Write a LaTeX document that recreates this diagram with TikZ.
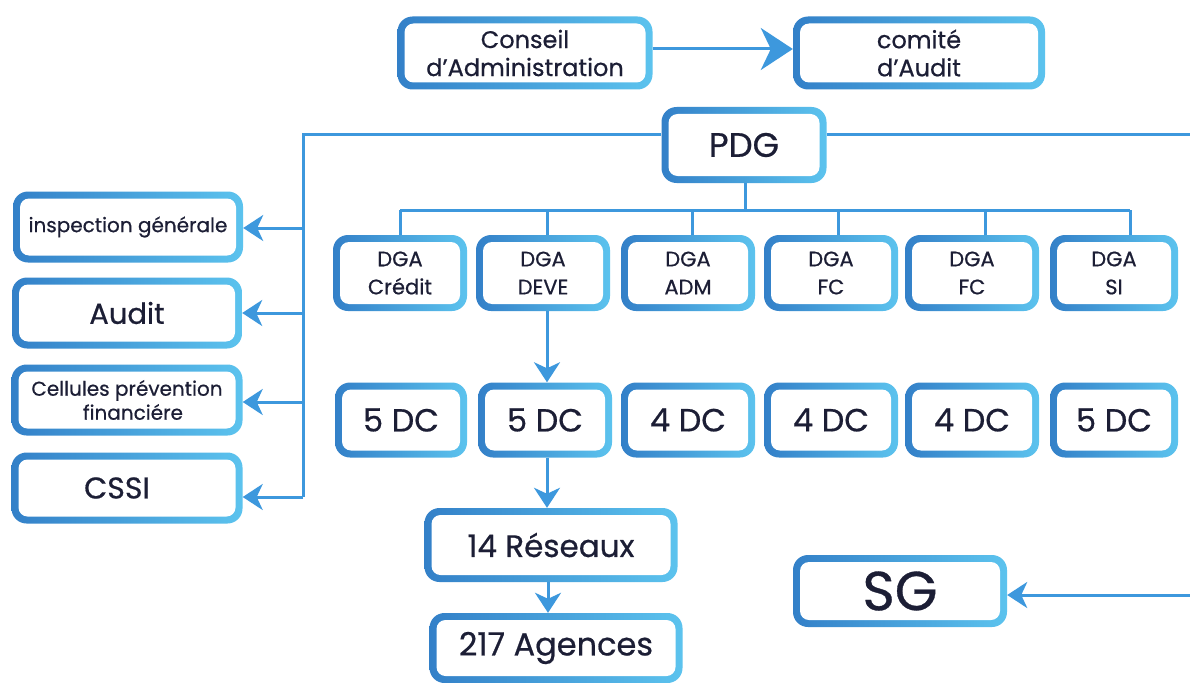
\documentclass[tikz,border=0pt]{standalone}
\usepackage{fontspec}
\setmainfont{Poppins}[FakeBold=0.6]
\usetikzlibrary{arrows.meta,calc}
\definecolor{bdark}{HTML}{3380C8}
\definecolor{blight}{HTML}{5CC3EE}
\definecolor{lin}{HTML}{3D98DD}
\definecolor{txt}{HTML}{1C1E35}
\newcommand{\fsz}[2]{\fontsize{#1}{#2}\selectfont}
\begin{document}
\begin{tikzpicture}[x=1pt,y=-1pt,
 box/.style={rectangle, rounded corners=15pt, left color=bdark, right color=blight, text=txt, align=center, inner sep=0pt,
   path picture={\fill[white, rounded corners=9pt] ([shift={(7pt,7pt)}]path picture bounding box.south west) rectangle ([shift={(-7pt,-7pt)}]path picture bounding box.north east);}},
 con/.style={draw=lin, line width=3pt},
 arr/.style={con, -{Stealth[length=20pt,width=26pt,inset=6pt]}},
 bigarr/.style={con, -{Stealth[length=32pt,width=42pt,inset=10pt]}},
 dga/.style={box, minimum width=134pt, minimum height=76pt, font=\fsz{21}{28}},
 dc/.style={box, minimum width=134pt, minimum height=75pt, font=\fsz{32}{36}},
 side/.style={box, minimum width=230pt, minimum height=71pt}
]
\useasboundingbox (0,0) rectangle (1190,682);
\fill[white] (0,0) rectangle (1190,682);

\node[box, minimum width=255pt, minimum height=73pt, font=\fsz{24}{28}] (ca) at (525,53) {Conseil\\d’Administration};
\node[box, minimum width=252pt, minimum height=73pt, font=\fsz{24}{28}] (cm) at (919,53) {comité\\d’Audit};
\node[box, minimum width=165pt, minimum height=76pt, font=\fsz{34}{38}] (pdg) at (744,145) {PDG};

\node[side, font=\fsz{20}{24}] (ig) at (128,227) {inspection générale};
\node[side, font=\fsz{29}{34}] (au) at (127,313) {Audit};
\node[side, minimum width=231pt, font=\fsz{20}{24}] (ce) at (127,400) {Cellules prévention\\\hspace*{12pt}financiére};
\node[side, minimum width=231pt, font=\fsz{30}{34}] (cs) at (127,488) {\hspace*{-20pt}CSSI};

\node[dga] (d1) at (400,273) {DGA\\Crédit};
\node[dga] (d2) at (543,273) {DGA\\DEVE};
\node[dga] (d3) at (688,273) {DGA\\ADM};
\node[dga] (d4) at (831,273) {DGA\\FC};
\node[dga] (d5) at (972,273) {DGA\\FC};
\node[dga, minimum width=128pt] (d6) at (1114,273) {DGA\\SI};

\node[dc, minimum width=132pt] (c1) at (401,420) {5 DC};
\node[dc] (c2) at (545,420) {5 DC};
\node[dc] (c3) at (688,420) {4 DC};
\node[dc] (c4) at (831,420) {4 DC};
\node[dc] (c5) at (972,420) {4 DC};
\node[dc, minimum width=128pt] (c6) at (1114,420) {5 DC};

\node[box, minimum width=253pt, minimum height=74pt, font=\fsz{31}{36}] (re) at (551,545) {14 Réseaux};
\node[box, minimum width=253pt, minimum height=70pt, font=\fsz{32}{36}] (ag) at (556,648) {217 Agences};
\node[box, minimum width=214pt, minimum height=72pt, font=\fsz{55}{60}] (sg) at (900,591) {SG};

% top arrow
\draw[bigarr] (ca.east |- 0,49) -- (cm.west |- 0,49);

% left branch
\coordinate (lt) at (303,134);
\coordinate (lb) at (303,497);
\draw[con] (pdg.west |- lt) -- (lt) -- (lb);
\draw[arr] (303,228) -- (ig.east |- 0,228);
\draw[arr] (303,313) -- (au.east |- 0,313);
\draw[arr] (303,402) -- (ce.east |- 0,402);
\draw[arr] (lb) -- (cs.east |- lb);

% right branch to SG
\coordinate (rt) at (1196,134);
\coordinate (rb) at (1196,595);
\draw[con] (pdg.east |- rt) -- (rt) -- (rb);
\draw[arr] (rb) -- (sg.east |- rb);

% bus to DGA
\coordinate (bus) at (745,210);
\draw[con] (pdg.south -| bus) -- (bus);
\draw[con] (400,210) -- (1130,210);
\foreach \x/\n in {400/d1,547/d2,692/d3,838/d4,985/d5,1130/d6}
  \draw[con] (\x,210) -- (\x,0 |- \n.north);

% DEVE chain
\draw[arr] (d2.south -| 547,0) -- (547,0 |- c2.north);
\draw[arr] (c2.south -| 547,0) -- (547,0 |- re.north);
\draw[arr] (re.south -| 548,0) -- (548,0 |- ag.north);
\end{tikzpicture}
\end{document}
